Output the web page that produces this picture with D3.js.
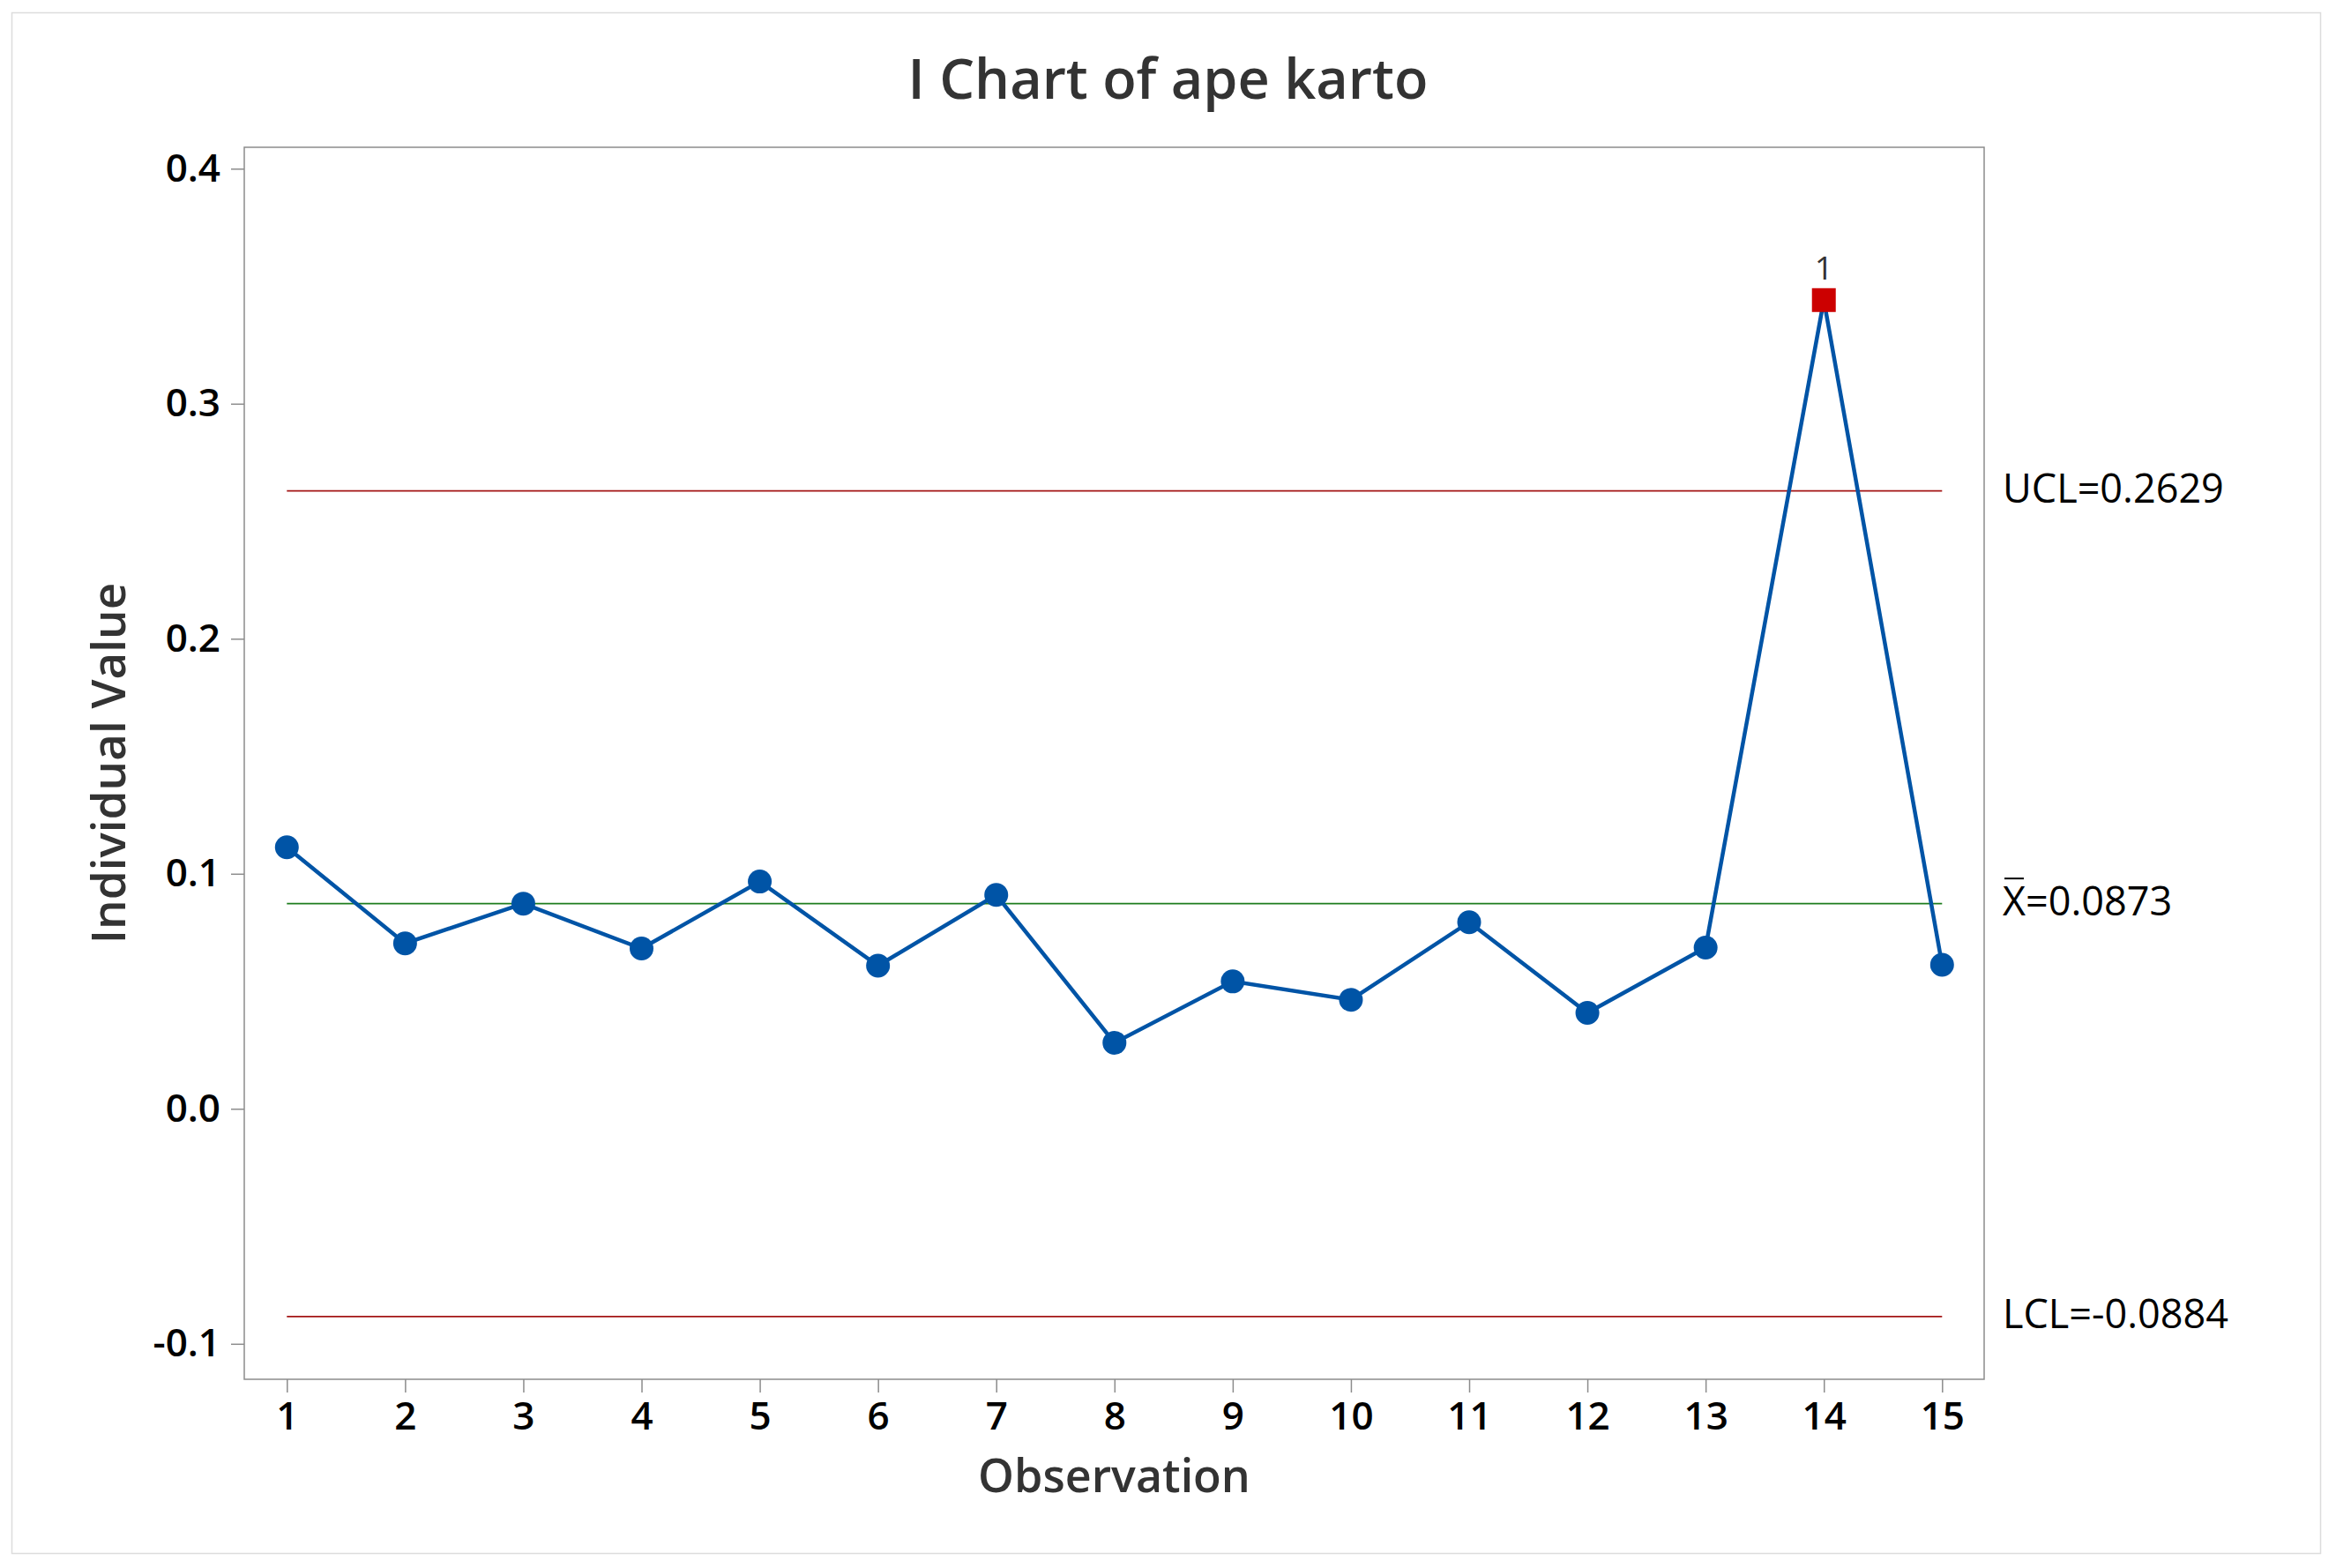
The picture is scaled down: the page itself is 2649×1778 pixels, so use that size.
<!DOCTYPE html>
<html><head><meta charset="utf-8">
<script src="https://cdn.jsdelivr.net/npm/d3@7"></script>
<style>body{margin:0;background:#fff}svg{display:block}</style>
</head><body>
<svg id="chart" width="2649" height="1778"></svg>
<script>
// ---- data ----
const chartTitle = "I Chart of ape karto";
const xLabel = "Observation";
const yLabel = "Individual Value";
const observations = [1,2,3,4,5,6,7,8,9,10,11,12,13,14,15];
const values = [0.1113,0.0704,0.0873,0.0682,0.0967,0.0609,0.0910,0.0281,0.0542,0.0464,0.0794,0.0408,0.0686,0.3441,0.0613];
const flaggedObs = [14];
const flaggedTests = ["1"];
const yTicks = [-0.1,0.0,0.1,0.2,0.3,0.4];
const xTicks = observations;
const limitNames = ["UCL","X","LCL"];
const limitValues = [0.2629,0.0873,-0.0884];
const limitText = ["0.2629","0.0873","-0.0884"];

// ---- layout ----
const W = 2649, H = 1778;
const frame = {left:277, right:2250, top:167, bottom:1564};
const FONT = "'Segoe UI','Open Sans','Noto Sans',sans-serif";
const svg = d3.select("#chart");

svg.append("rect").attr("x",13.5).attr("y",14.5).attr("width",2618).attr("height",1747)
  .attr("fill","#fff").attr("stroke","#dcdcdc").attr("stroke-width",1.5);

const x = d3.scaleLinear().domain([1,15]).range([325.3,2202.3]);
const y = d3.scaleLinear().domain([-0.1,0.4]).range([1523.8,191.3]);

// frame
svg.append("rect").attr("x",frame.left).attr("y",frame.top)
  .attr("width",frame.right-frame.left).attr("height",frame.bottom-frame.top)
  .attr("fill","none").attr("stroke","#8c8c8c").attr("stroke-width",1.5);

// axes
const yAxis = svg.append("g").attr("transform",`translate(${frame.left},0)`)
  .call(d3.axisLeft(y).tickValues(yTicks).tickSize(15).tickPadding(12).tickFormat(d=>d.toFixed(1)));
const xAxis = svg.append("g").attr("transform",`translate(0,${frame.bottom})`)
  .call(d3.axisBottom(x).tickValues(xTicks).tickSize(15).tickPadding(11).tickFormat(d=>String(d)));
[yAxis,xAxis].forEach(g=>{
  g.select(".domain").remove();
  g.selectAll(".tick line").attr("stroke","#8c8c8c").attr("stroke-width",1.5);
  g.selectAll(".tick text").attr("fill","#000").style("font-family",FONT)
   .style("font-size","44px").style("font-weight","600");
});

// control limits
const limitColors = ["#a31515","#1e7d1e","#a31515"];
limitValues.forEach((v,i)=>{
  svg.append("line").attr("x1",x(observations[0])).attr("x2",x(observations[observations.length-1]))
    .attr("y1",y(v)).attr("y2",y(v)).attr("stroke",limitColors[i]).attr("stroke-width",1.6);
});

// right labels
limitValues.forEach((v,i)=>{
  const by = y(v)+13.5;
  if(limitNames[i]==="X"){
    const tx = svg.append("text").attr("x",2271).attr("y",by).text("X")
      .attr("fill","#000").style("font-family",FONT).style("font-size","45px");
    const bb = tx.node().getBBox();
    svg.append("line").attr("x1",bb.x+2).attr("x2",bb.x+bb.width-2)
      .attr("y1",by-42).attr("y2",by-42).attr("stroke","#000").attr("stroke-width",2);
    svg.append("text").attr("x",bb.x+bb.width).attr("y",by).text("="+limitText[i])
      .attr("fill","#000").style("font-family",FONT).style("font-size","45px");
  } else {
    svg.append("text").attr("x",2271).attr("y",by).text(limitNames[i]+"="+limitText[i])
      .attr("fill","#000").style("font-family",FONT).style("font-size","45px");
  }
});

// data line
const pts = observations.map((o,i)=>({o, v:values[i]}));
svg.append("path").datum(pts)
  .attr("d",d3.line().x(d=>x(d.o)).y(d=>y(d.v)))
  .attr("fill","none").attr("stroke","#0054a6").attr("stroke-width",4.5);

// points
svg.selectAll("circle.pt").data(pts.filter(d=>!flaggedObs.includes(d.o))).join("circle")
  .attr("class","pt").attr("cx",d=>x(d.o)).attr("cy",d=>y(d.v)).attr("r",13.5).attr("fill","#0054a6");
const sq = 27;
svg.selectAll("rect.flag").data(pts.filter(d=>flaggedObs.includes(d.o))).join("rect")
  .attr("class","flag").attr("x",d=>x(d.o)-sq/2).attr("y",d=>y(d.v)-sq/2)
  .attr("width",sq).attr("height",sq).attr("fill","#cc0000");
svg.selectAll("text.flagtxt").data(pts.filter(d=>flaggedObs.includes(d.o))).join("text")
  .attr("class","flagtxt").attr("x",d=>x(d.o)).attr("y",d=>y(d.v)-23.5)
  .attr("text-anchor","middle").text((d,i)=>flaggedTests[i])
  .attr("fill","#333").style("font-family",FONT).style("font-size","37px");

// titles
svg.append("text").attr("x",W/2).attr("y",111.5).attr("text-anchor","middle").text(chartTitle)
  .attr("fill","#333").style("font-family",FONT).style("font-size","63px").style("font-weight","600");
svg.append("text").attr("x",(frame.left+frame.right)/2).attr("y",1692).attr("text-anchor","middle").text(xLabel)
  .attr("fill","#333").style("font-family",FONT).style("font-size","52px").style("font-weight","600");
svg.append("text").attr("transform",`translate(141.5,${(frame.top+frame.bottom)/2}) rotate(-90)`)
  .attr("text-anchor","middle").text(yLabel)
  .attr("fill","#333").style("font-family",FONT).style("font-size","53px").style("font-weight","600");
</script>
</body></html>
